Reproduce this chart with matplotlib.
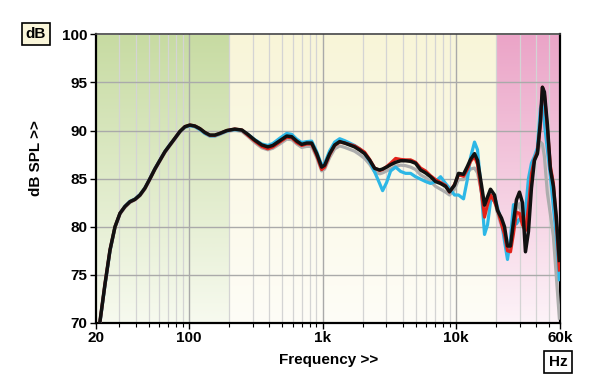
import numpy as np
import matplotlib.pyplot as plt
from matplotlib.colors import to_rgb
from matplotlib.ticker import FixedLocator, NullFormatter

plt.rcParams['font.family'] = ['Liberation Sans', 'DejaVu Sans']
plt.rcParams['font.weight'] = 'bold'

# frequency points (Hz)
freq = [21.5, 23.5, 25.6, 27.9, 30.4, 33.1, 36.1, 39.4, 42.9, 46.7, 51.0, 55.5,
        60.5, 66.0, 71.9, 78.4, 85.4, 93.1, 101.5, 110.6, 120.5, 131.4, 143.2,
        156, 170, 192, 220, 249, 276, 311, 351, 389, 424, 478, 539, 588, 641,
        698, 761, 829, 904, 985, 1037, 1131, 1233, 1343, 1464, 1596, 1739,
        1896, 2066, 2252, 2455, 2675, 2817, 3018, 3234, 3525, 3842, 4187, 4564,
        4974, 5421, 5909, 6440, 7019, 7650, 8338, 8934, 9738, 10431, 11369,
        12182, 12829, 13744, 14474, 15508, 16329, 17196, 18107, 19397, 20424,
        21890, 23052, 24272, 25556, 26908, 28329, 29830, 31411, 33080, 34828,
        36669, 38614, 40655, 42813, 44310, 45866, 48293, 50844, 53542, 56370,
        59363]

# dB SPL per curve
spl_gray = [70.0, 74.0, 77.5, 79.9, 81.3, 82.0, 82.5, 82.8, 83.2, 83.9, 84.9, 85.9,
            86.8, 87.7, 88.4, 89.1, 89.8, 90.3, 90.5, 90.4, 90.1, 89.7, 89.4,
            89.4, 89.6, 89.9, 90.05, 89.9, 89.4, 88.75, 88.2, 88.0, 88.15, 88.6, 89.1,
            89.05, 88.6, 88.25, 88.35, 88.35, 87.2, 85.8, 86.0, 87.2, 88.1,
            88.4, 88.25, 88.05, 87.85, 87.5, 87.1, 86.5, 85.7, 85.5, 85.6,
            85.8, 86.0, 86.3, 86.4, 86.35, 86.2, 85.95, 85.4, 85.1, 84.7,
            84.2, 83.9, 83.6, 83.3, 83.9, 84.9, 84.9, 85.6, 86.0, 86.1,
            85.6, 83.6, 81.9, 82.7, 83.3, 82.8, 81.4, 80.1, 79.3, 78.0,
            78.2, 80.0, 81.8, 82.4, 81.0, 80.2, 82.8, 85.9, 86.9, 87.6,
            88.8, 88.6, 87.3, 83.5, 81.3, 79.0, 74.8, 70.5]

spl_blue = [70.0, 74.0, 77.5, 80.0, 81.4, 82.15, 82.65, 82.9, 83.35, 84.05, 85.05, 86.05,
            86.95, 87.85, 88.55, 89.2, 89.9, 90.35, 90.5, 90.4, 90.1, 89.7, 89.45,
            89.45, 89.65, 89.95, 90.1, 90.0, 89.6, 89.05, 88.6, 88.45, 88.65, 89.2, 89.7,
            89.6, 89.1, 88.75, 88.85, 88.9, 87.8, 86.4, 86.6, 87.9, 88.8,
            89.15, 88.95, 88.7, 88.45, 88.1, 87.6, 86.8, 85.7, 84.5, 83.75,
            84.6, 85.8, 86.2, 85.75, 85.55, 85.55, 85.2, 84.95, 84.7, 84.5,
            84.7, 85.2, 84.5, 84.0, 83.3, 83.3, 82.9, 85.0, 87.2, 88.8,
            88.0, 83.5, 79.2, 80.2, 82.6, 83.2, 82.0, 80.5, 78.5, 76.6,
            78.8, 82.3, 80.3, 80.8, 80.8, 81.5, 85.0, 86.6, 87.3, 88.2,
            92.3, 93.0, 90.8, 88.0, 85.3, 82.0, 79.0, 74.5]

spl_red = [70.1, 74.1, 77.6, 80.0, 81.4, 82.1, 82.6, 82.85, 83.3, 84.0, 85.0, 86.0,
           86.9, 87.8, 88.5, 89.2, 89.9, 90.4, 90.57, 90.47, 90.2, 89.8, 89.5,
           89.5, 89.7, 90.0, 90.15, 90.05, 89.5, 88.9, 88.35, 88.1, 88.3, 88.8, 89.3,
           89.25, 88.75, 88.45, 88.6, 88.6, 87.4, 85.95, 86.2, 87.5, 88.45,
           88.8, 88.7, 88.55, 88.4, 88.1, 87.75, 87.0, 86.1, 85.85, 85.95,
           86.25, 86.6, 87.1, 87.0, 86.95, 86.95, 86.7, 86.1, 85.8, 85.3,
           84.9, 84.6, 84.3, 83.6, 84.4, 85.4, 85.25, 86.0, 86.8, 87.3,
           86.5, 83.5, 81.0, 82.3, 83.3, 82.6, 81.8, 80.3, 79.2, 77.5,
           77.4, 79.3, 81.5, 81.4, 80.2, 79.6, 82.0, 85.5, 87.0, 87.8,
           90.5, 94.5, 93.8, 90.2, 86.3, 84.5, 80.5, 75.5]

spl_black = [70.1, 74.1, 77.6, 80.0, 81.4, 82.1, 82.6, 82.85, 83.3, 84.0, 85.0, 86.0,
             86.9, 87.8, 88.5, 89.2, 89.9, 90.4, 90.57, 90.47, 90.2, 89.8, 89.53,
             89.53, 89.7, 90.0, 90.15, 90.05, 89.6, 89.0, 88.5, 88.3, 88.45, 88.94, 89.43,
             89.36, 88.9, 88.56, 88.7, 88.7, 87.6, 86.2, 86.4, 87.6, 88.5,
             88.85, 88.7, 88.5, 88.3, 87.97, 87.6, 86.93, 86.07, 85.9, 86.0,
             86.2, 86.45, 86.7, 86.86, 86.86, 86.8, 86.6, 85.9, 85.6, 85.2,
             84.7, 84.5, 84.2, 83.64, 84.33, 85.55, 85.45, 86.3, 87.0, 87.6,
             86.9, 84.3, 82.25, 83.1, 83.9, 83.3, 81.7, 80.9, 80.0, 78.0,
             78.0, 80.5, 82.8, 83.6, 82.5, 77.4, 79.5, 84.0, 86.9, 87.6,
             91.0, 94.5, 94.0, 90.6, 86.0, 84.2, 81.0, 76.5]

# shaded frequency bands: (start, end, top colour, bottom colour)
bands = [(20, 200, '#c7dba2', '#f7faef'),
         (200, 20000, '#f8f5d8', '#fefdf7'),
         (20000, 60000, '#eba4c7', '#fdf3f8')]

x_major = [20, 100, 1000, 10000, 60000]
x_labels = ['20', '100', '1k', '10k', '60k']
x_minor = [30, 40, 50, 60, 70, 80, 90, 200, 300, 400, 500, 600, 700, 800, 900,
           2000, 3000, 4000, 5000, 6000, 7000, 8000, 9000, 20000, 30000, 40000, 50000]
y_ticks = [70, 75, 80, 85, 90, 95, 100]

fig = plt.figure(figsize=(6, 3.89), dpi=100)
ax = fig.add_axes([0.1595, 0.1697, 0.7738, 0.7421])
ax.set_xscale('log')

# gradient backgrounds
for f0, f1, top, bot in bands:
    t = np.linspace(0, 1, 256)[:, None]
    c0, c1 = np.array(to_rgb(top)), np.array(to_rgb(bot))
    img = (c0 * (1 - t) + c1 * t).reshape(256, 1, 3)
    ax.imshow(img, extent=(f0, f1, 70, 100), aspect='auto', zorder=0,
              origin='upper', interpolation='bilinear')
ax.set_xlim(20, 60000)
ax.set_ylim(70, 100)

# grid
for f in x_minor:
    ax.axvline(f, color='#d4d4d4', lw=0.9, zorder=1)
for f in x_major[1:-1]:
    ax.axvline(f, color='#a9a9a9', lw=1.0, zorder=1)
for v in y_ticks[1:-1]:
    ax.axhline(v, color='#aaaaaa', lw=1.0, zorder=1)

# curves
ax.plot(freq, spl_gray, color='#adadad', lw=2.3, zorder=3, solid_joinstyle='round')
ax.plot(freq, spl_blue, color='#2db7e6', lw=2.3, zorder=4, solid_joinstyle='round')
ax.plot(freq, spl_red, color='#e3231b', lw=2.3, zorder=5, solid_joinstyle='round')
ax.plot(freq, spl_black, color='#111111', lw=2.5, zorder=6, solid_joinstyle='round')

# ticks
ax.xaxis.set_major_locator(FixedLocator(x_major))
ax.set_xticklabels(x_labels)
ax.xaxis.set_minor_locator(FixedLocator(x_minor))
ax.xaxis.set_minor_formatter(NullFormatter())
ax.set_yticks(y_ticks)
ax.tick_params(axis='both', which='major', length=4, width=1, labelsize=11, pad=2)
ax.tick_params(axis='x', which='minor', length=3, width=0.8)
for lab in ax.get_xticklabels() + ax.get_yticklabels():
    lab.set_fontweight('bold')

for side in ['left', 'bottom', 'right']:
    ax.spines[side].set_linewidth(1.6)
    ax.spines[side].set_color('black')
ax.spines['top'].set_linewidth(1.2)
ax.spines['top'].set_color('#444444')

# labels
fig.text(36 / 600, 1 - 158 / 389, 'dB SPL >>', rotation=90, ha='center', va='center',
         fontsize=11, fontweight='bold')
fig.text(329 / 600, 1 - 360 / 389, 'Frequency >>', ha='center', va='center',
         fontsize=11, fontweight='bold')
fig.text(36 / 600, 1 - 34 / 389, 'dB', ha='center', va='center', fontsize=11,
         fontweight='bold',
         bbox=dict(boxstyle='square,pad=0.28', fc='#faf6da', ec='black', lw=1.2))
fig.text(558 / 600, 1 - 362 / 389, 'Hz', ha='center', va='center', fontsize=11,
         fontweight='bold',
         bbox=dict(boxstyle='square,pad=0.28', fc='white', ec='black', lw=1.2))

fig.savefig('out.png', dpi=100)
